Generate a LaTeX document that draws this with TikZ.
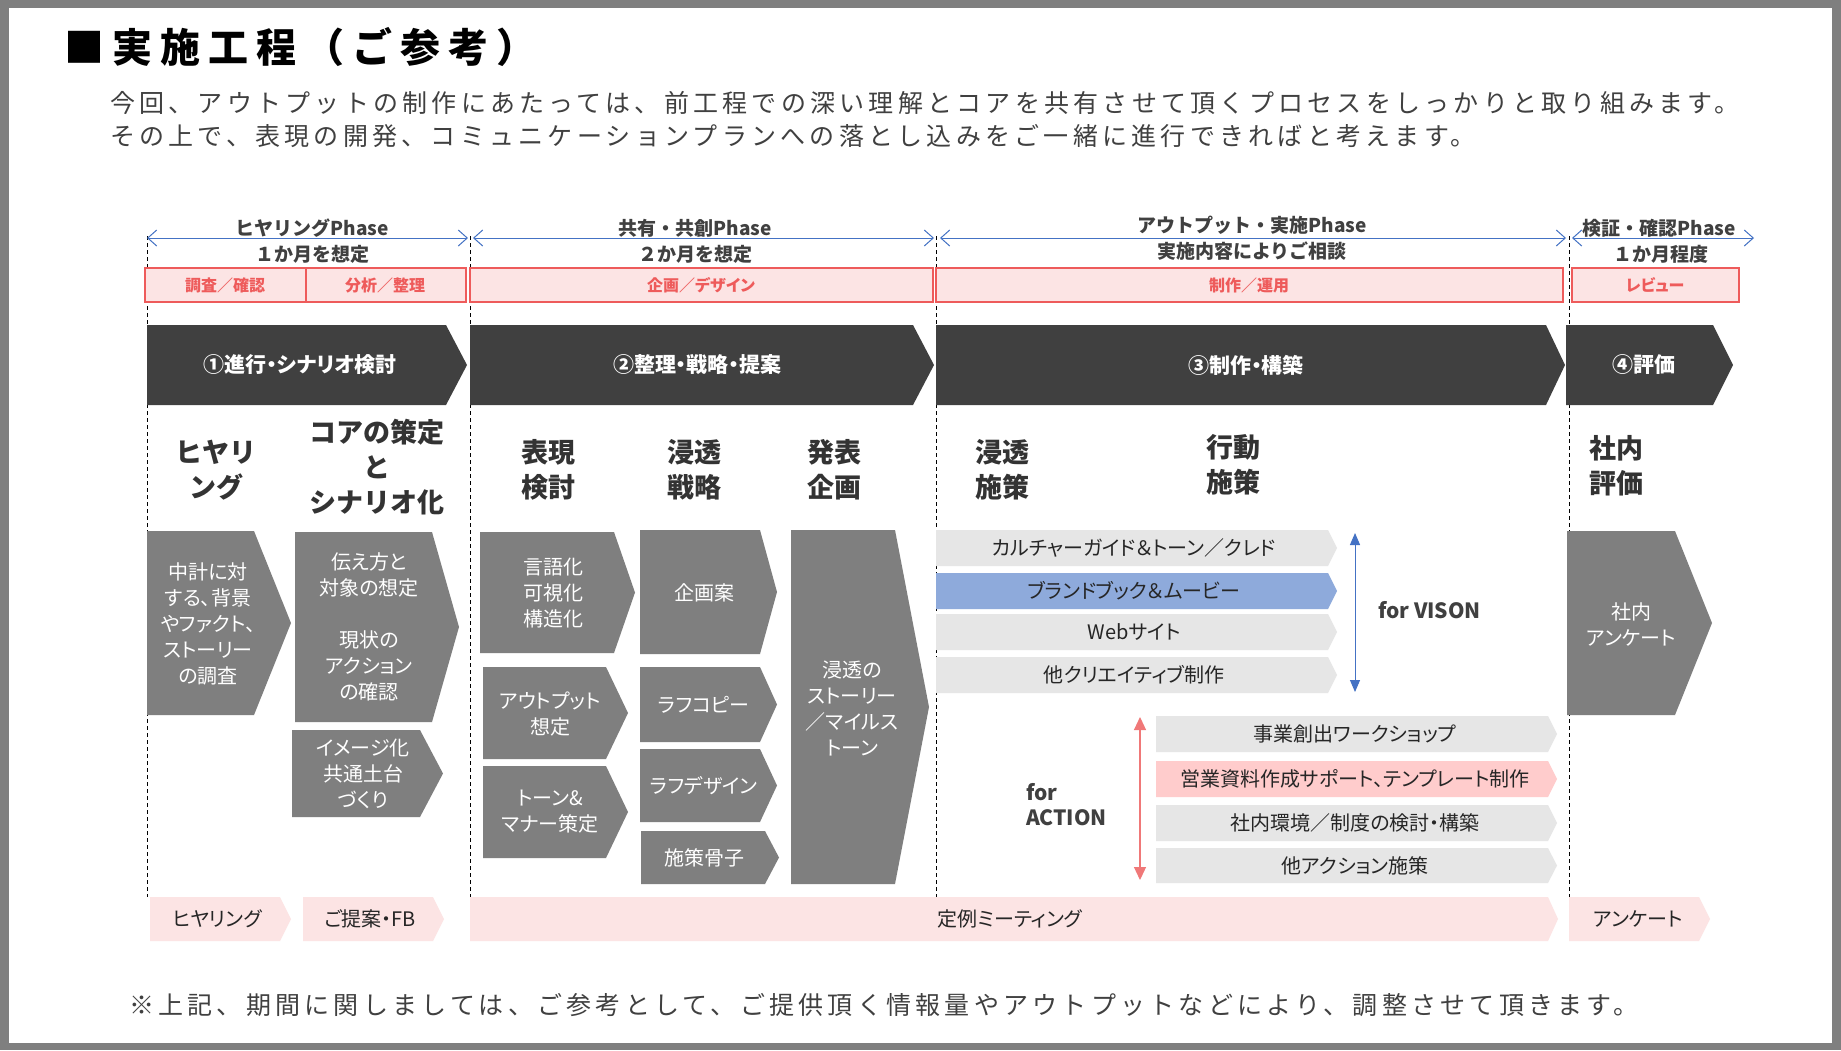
\documentclass[tikz,border=0pt]{standalone}
\usepackage{fontspec}
\setmainfont{Noto Sans CJK JP}
\newfontfamily\condf{Noto Sans CJK JP}[RawFeature=+palt]
\newfontfamily\bodyf{Noto Sans CJK JP}[LetterSpace=17]
\newfontfamily\titlef{Noto Sans CJK JP}[LetterSpace=20]
\usetikzlibrary{arrows.meta}
\definecolor{frame}{HTML}{7F7F7F}
\definecolor{dk}{HTML}{404040}
\definecolor{hd}{HTML}{333333}
\definecolor{tx}{HTML}{262626}
\definecolor{chev}{HTML}{404040}
\definecolor{gbox}{HTML}{7F7F7F}
\definecolor{lbar}{HTML}{E6E6E6}
\definecolor{bbar}{HTML}{8EAADB}
\definecolor{pbar}{HTML}{FFCCCC}
\definecolor{pink}{HTML}{FCE4E4}
\definecolor{redl}{HTML}{EE5B5B}
\definecolor{bluel}{HTML}{4472C4}
\definecolor{reda}{HTML}{F07878}
\newcommand{\shp}[6]{\fill[#6] (#1,#4) -- (#2,#4) -- (#3,{(#4+#5)/2}) -- (#2,#5) -- (#1,#5) -- cycle;}
\begin{document}
\begin{tikzpicture}[x=1pt,y=-1pt,
  every node/.style={inner sep=0pt,outer sep=0pt},
  phase/.style={font=\bfseries\fontsize{19}{22}\selectfont,text=dk},
  redlab/.style={font=\condf\bfseries\fontsize{16}{18}\selectfont,text=redl},
  chevlab/.style={font=\condf\bfseries\fontsize{21}{24}\selectfont,text=white},
  head/.style={font=\bfseries\fontsize{27}{35}\selectfont,text=hd,align=center},
  boxtxt/.style={font=\condf\fontsize{20}{26}\selectfont,text=white,align=center},
  bartxt/.style={font=\condf\fontsize{20}{24}\selectfont,text=tx},
  lbl/.style={font=\condf\bfseries\fontsize{21}{25}\selectfont,text=dk,align=left},
  redbox/.style={draw=redl,fill=pink,line width=1.8pt},
  dashv/.style={draw=black,line width=0.8pt,dash pattern=on 4pt off 3pt},
  phasearrow/.style={draw=bluel,line width=1pt,{Straight Barb[length=9pt,width=16pt]}-{Straight Barb[length=9pt,width=16pt]}}
]
\useasboundingbox (0,0) rectangle (1841,1050);
\fill[frame] (0,0) rectangle (1841,1050);
\fill[white] (9,8) rectangle (1832,1043);

% title and intro
\node[anchor=west,font=\titlef\bfseries\fontsize{40}{44}\selectfont,text=black] (title) at (64,47) {■実施工程（ご参考）};
\node[anchor=west,font=\bodyf\fontsize{25}{28}\selectfont,text=dk] (intro1) at (110,103) {今回、アウトプットの制作にあたっては、前工程での深い理解とコアを共有させて頂くプロセスをしっかりと取り組みます。};
\node[anchor=west,font=\bodyf\fontsize{25}{28}\selectfont,text=dk] (intro2) at (110,136) {その上で、表現の開発、コミュニケーションプランへの落とし込みをご一緒に進行できればと考えます。};

% dashed separators
\coordinate (d1a) at (147,236); \coordinate (d1b) at (147,897);
\coordinate (d2a) at (470,236); \coordinate (d2b) at (470,897);
\coordinate (d3a) at (936,236); \coordinate (d3b) at (936,897);
\coordinate (d4a) at (1569,236); \coordinate (d4b) at (1569,897);
\draw[dashv] (d1a) -- (d1b);
\draw[dashv] (d2a) -- (d2b);
\draw[dashv] (d3a) -- (d3b);
\draw[dashv] (d4a) -- (d4b);

% phase arrows
\coordinate (pa1) at (147,238); \coordinate (pb1) at (468,238);
\coordinate (pa2) at (473,238); \coordinate (pb2) at (934,238);
\coordinate (pa3) at (940,238); \coordinate (pb3) at (1566,238);
\coordinate (pa4) at (1572,238); \coordinate (pb4) at (1754,238);
\draw[phasearrow] (pa1) -- (pb1);
\draw[phasearrow] (pa2) -- (pb2);
\draw[phasearrow] (pa3) -- (pb3);
\draw[phasearrow] (pa4) -- (pb4);
\node[phase] (ph1) at (312,228) {ヒヤリングPhase};
\node[phase] (ph1b) at (312,254) {１か月を想定};
\node[phase] (ph2) at (695,228) {共有・共創Phase};
\node[phase] (ph2b) at (695,254) {２か月を想定};
\node[phase] (ph3) at (1252,225) {アウトプット・実施Phase};
\node[phase] (ph3b) at (1252,251) {実施内容によりご相談};
\node[phase] (ph4) at (1659,228) {検証・確認Phase};
\node[phase] (ph4b) at (1661,254) {１か月程度};

% red boxes
\draw[redbox] (145,268) rectangle (466,302);
\draw[draw=redl,line width=1.2pt] (306,268) -- (306,302);
\draw[redbox] (470,268) rectangle (933,302);
\draw[redbox] (936,268) rectangle (1563,302);
\draw[redbox] (1572,268) rectangle (1739,302);
\node[redlab] (r1) at (225,285) {調査／確認};
\node[redlab] (r2) at (385,285) {分析／整理};
\node[redlab] (r3) at (701,285) {企画／デザイン};
\node[redlab] (r4) at (1249,285) {制作／運用};
\node[redlab] (r5) at (1655,285) {レビュー};

% dark chevrons
\shp{147}{446}{467}{325}{405}{chev}
\shp{470}{913}{934}{325}{405}{chev}
\shp{936}{1546}{1565}{325}{405}{chev}
\shp{1566}{1713}{1733}{325}{405}{chev}
\node[chevlab] (c1) at (300,365) {①進行・シナリオ検討};
\node[chevlab] (c2) at (697,365) {②整理・戦略・提案};
\node[chevlab] (c3) at (1246,365) {③制作・構築};
\node[chevlab] (c4) at (1644,365) {④評価};

% headings
\node[head] (h1) at (216,470) {ヒヤリ\\ング};
\node[head] (h2) at (377,467) {コアの策定\\と\\シナリオ化};
\node[head] (h3) at (548,470) {表現\\検討};
\node[head] (h4) at (694,470) {浸透\\戦略};
\node[head] (h5) at (834,470) {発表\\企画};
\node[head] (h6) at (1002,470) {浸透\\施策};
\node[head] (h7) at (1233,465) {行動\\施策};
\node[head] (h8) at (1616,466) {社内\\評価};

% gray boxes
\shp{147}{254}{291}{531}{715}{gbox}
\shp{295}{432}{459}{532}{722}{gbox}
\shp{292}{420}{443}{730}{817}{gbox}
\shp{480}{614}{635}{532}{653}{gbox}
\shp{483}{606}{628}{667}{759}{gbox}
\shp{483}{606}{628}{766}{858}{gbox}
\shp{640}{760}{777}{530}{654}{gbox}
\shp{640}{760}{777}{667}{742}{gbox}
\shp{640}{760}{777}{749}{822}{gbox}
\shp{641}{765}{779}{831}{884}{gbox}
\shp{791}{895}{929}{530}{884}{gbox}
\shp{1567}{1675}{1712}{531}{715}{gbox}
\node[boxtxt] (bA) at (208,624) {中計に対\\する、背景\\やファクト、\\ストーリー\\の調査};
\node[boxtxt] (bB) at (369,627) {伝え方と\\対象の想定\\[26pt]現状の\\アクション\\の確認};
\node[boxtxt] (bC) at (363,774) {イメージ化\\共通土台\\づくり};
\node[boxtxt] (bD) at (553,593) {言語化\\可視化\\構造化};
\node[boxtxt] (bG) at (550,714) {アウトプット\\想定};
\node[boxtxt] (bH) at (550,812) {トーン\&\\マナー策定};
\node[boxtxt] (bE) at (704,593) {企画案};
\node[boxtxt] (bI) at (704,705) {ラフコピー};
\node[boxtxt] (bJ) at (704,786) {ラフデザイン};
\node[boxtxt] (bK) at (704,858) {施策骨子};
\node[boxtxt] (bF) at (852,708) {浸透の\\ストーリー\\／マイルス\\トーン};
\node[boxtxt] (bL) at (1631,624) {社内\\アンケート};

% vision bars
\shp{936}{1328}{1337}{530}{566}{lbar}
\shp{936}{1328}{1337}{573}{609}{bbar}
\shp{936}{1328}{1337}{614}{650}{lbar}
\shp{936}{1328}{1337}{657}{693}{lbar}
\node[bartxt] (v1) at (1134,548) {カルチャーガイド＆トーン／クレド};
\node[bartxt] (v2) at (1134,591) {ブランドブック＆ムービー};
\node[bartxt] (v3) at (1134,632) {Webサイト};
\node[bartxt] (v4) at (1134,675) {他クリエイティブ制作};
\coordinate (va) at (1355,533); \coordinate (vb) at (1355,692);
\draw[draw=bluel,line width=1pt,{Triangle[length=12pt,width=10pt]}-{Triangle[length=12pt,width=10pt]}] (va) -- (vb);
\node[lbl,anchor=west] (forv) at (1378,610) {for VISON};

% action bars
\shp{1156}{1548}{1557}{716}{752}{lbar}
\shp{1156}{1548}{1557}{761}{797}{pbar}
\shp{1156}{1548}{1557}{805}{841}{lbar}
\shp{1156}{1548}{1557}{848}{883}{lbar}
\node[bartxt] (w1) at (1355,734) {事業創出ワークショップ};
\node[bartxt] (w2) at (1355,779) {営業資料作成サポート、テンプレート制作};
\node[bartxt] (w3) at (1355,823) {社内環境／制度の検討・構築};
\node[bartxt] (w4) at (1355,866) {他アクション施策};
\coordinate (ra) at (1140,717); \coordinate (rb) at (1140,880);
\draw[draw=reda,line width=1.2pt,{Triangle[length=13pt,width=12pt]}-{Triangle[length=13pt,width=12pt]}] (ra) -- (rb);
\node[lbl,anchor=west] (fora) at (1026,805) {for\\ACTION};

% bottom pink bars
\shp{150}{280}{291}{897}{941}{pink}
\shp{303}{433}{444}{897}{941}{pink}
\shp{470}{1548}{1558}{897}{941}{pink}
\shp{1569}{1699}{1710}{897}{941}{pink}
\node[bartxt] (m1) at (217,919) {ヒヤリング};
\node[bartxt] (m2) at (370,919) {ご提案・FB};
\node[bartxt] (m3) at (1010,919) {定例ミーティング};
\node[bartxt] (m4) at (1638,919) {アンケート};

% footer
\node[anchor=west,font=\bodyf\fontsize{25}{28}\selectfont,text=dk] (foot) at (129,1005) {※上記、期間に関しましては、ご参考として、ご提供頂く情報量やアウトプットなどにより、調整させて頂きます。};
\end{tikzpicture}
\end{document}
